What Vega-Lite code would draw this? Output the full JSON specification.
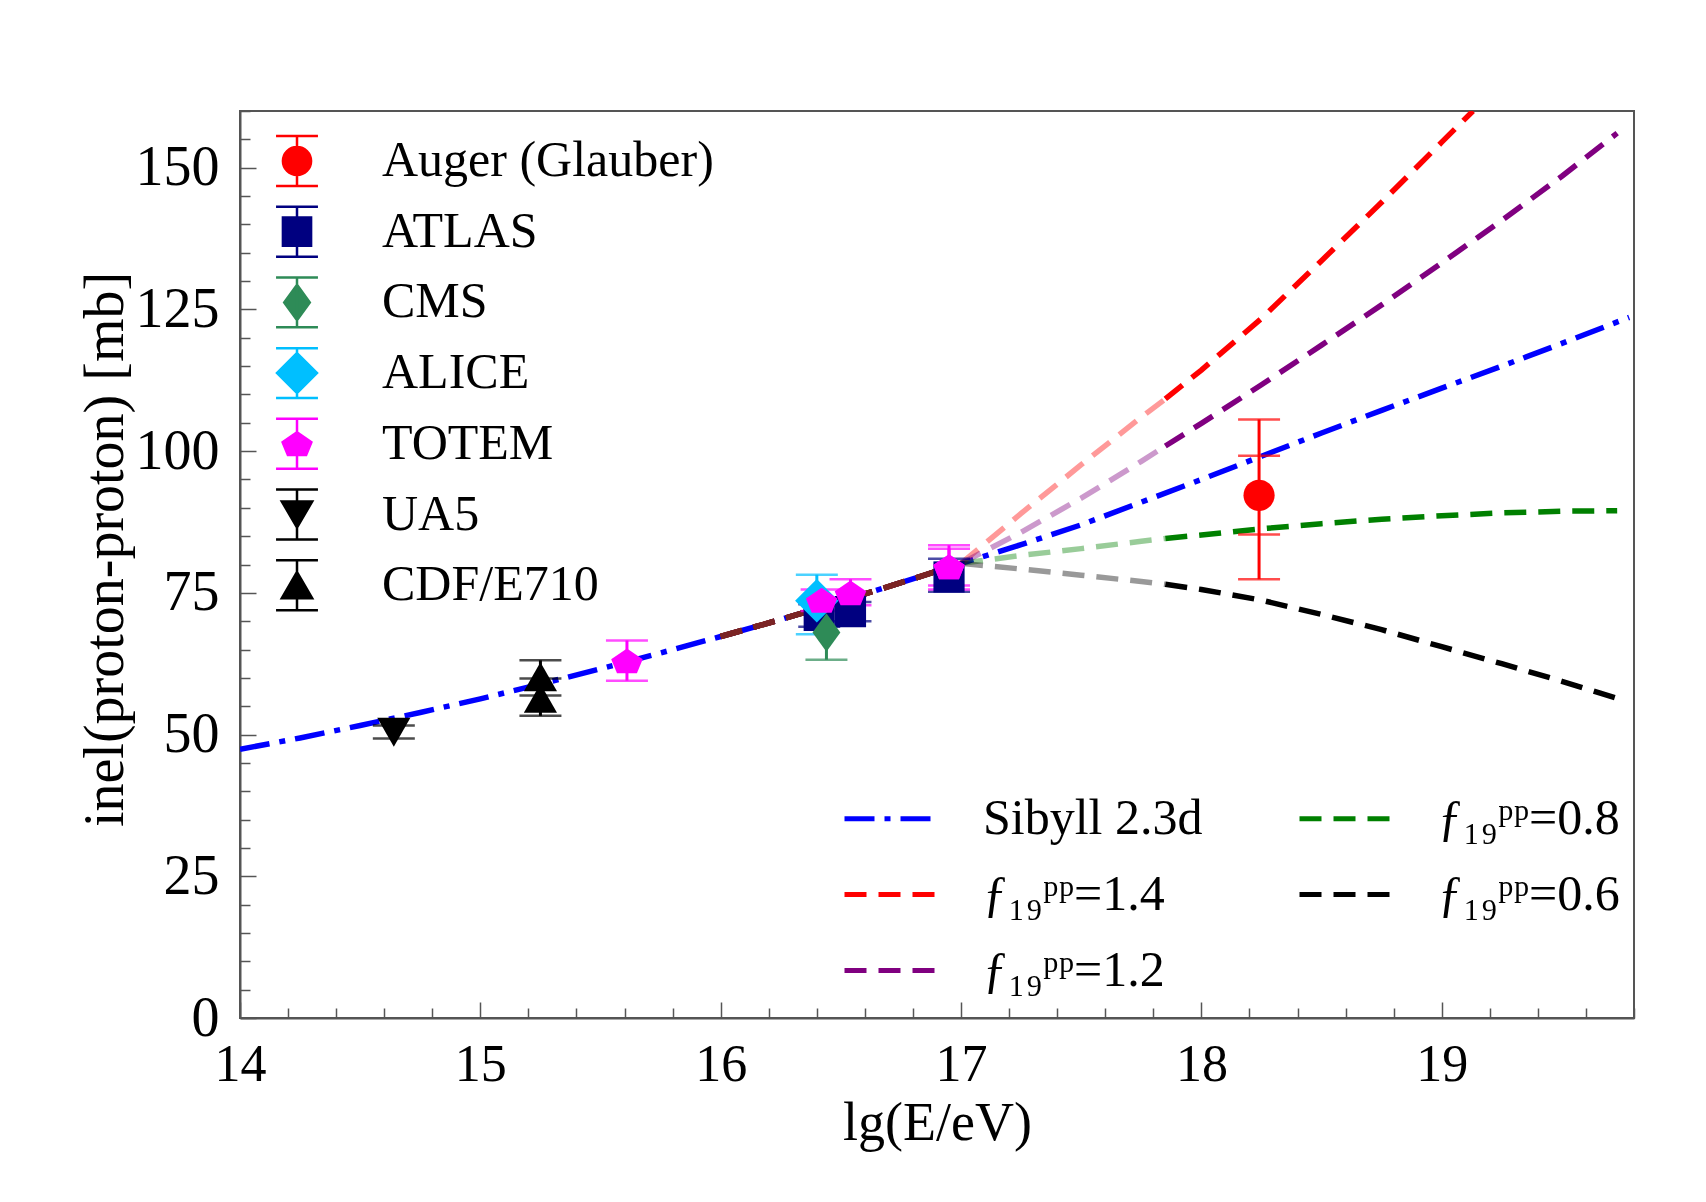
{
  "$schema": "https://vega.github.io/schema/vega-lite/v6.json",
  "width": 1394,
  "height": 907,
  "autosize": {"type": "none"},
  "padding": {"left": 240, "top": 111, "right": 72, "bottom": 184},
  "background": "#ffffff",
  "config": {
    "view": {"stroke": "#555555", "strokeWidth": 2},
    "font": "Liberation Serif",
    "axisX": {
      "tickColor": "#555555", "tickWidth": 1.5,
      "domainColor": "#555555", "domainWidth": 2,
      "labelFont": "Liberation Serif", "labelFontSize": 52, "labelColor": "#000000",
      "labelPadding": 37, "labelOverlap": false, "labelFlush": false,
      "titleFont": "Liberation Serif", "titleFontSize": 54, "titleFontWeight": "normal", "titleColor": "#000000",
      "titlePadding": 0, "grid": false
    },
    "axisY": {
      "tickColor": "#555555", "tickWidth": 1.5,
      "domainColor": "#555555", "domainWidth": 2,
      "labelFont": "Liberation Serif", "labelFontSize": 56, "labelColor": "#000000",
      "labelPadding": 37, "labelOverlap": false, "labelFlush": false,
      "titleFont": "Liberation Serif", "titleFontSize": 56, "titleFontWeight": "normal", "titleColor": "#000000",
      "titleAngle": -90, "titleX": -135, "titleY": 438, "titleAlign": "center", "titleBaseline": "middle",
      "grid": false
    }
  },
  "datasets": {
    "curves": [
      {"m": "Sibyll 2.3d", "x": 14.0, "y": 47.4},
      {"m": "Sibyll 2.3d", "x": 14.25, "y": 49.4},
      {"m": "Sibyll 2.3d", "x": 14.5, "y": 51.6},
      {"m": "Sibyll 2.3d", "x": 14.75, "y": 53.9},
      {"m": "Sibyll 2.3d", "x": 15.0, "y": 56.3},
      {"m": "Sibyll 2.3d", "x": 15.25, "y": 58.9},
      {"m": "Sibyll 2.3d", "x": 15.5, "y": 61.6},
      {"m": "Sibyll 2.3d", "x": 15.75, "y": 64.4},
      {"m": "Sibyll 2.3d", "x": 16.0, "y": 67.3},
      {"m": "Sibyll 2.3d", "x": 16.25, "y": 70.3},
      {"m": "Sibyll 2.3d", "x": 16.5, "y": 73.5},
      {"m": "Sibyll 2.3d", "x": 16.75, "y": 76.8},
      {"m": "Sibyll 2.3d", "x": 17.0, "y": 80.2},
      {"m": "Sibyll 2.3d", "x": 17.25, "y": 83.5},
      {"m": "Sibyll 2.3d", "x": 17.5, "y": 87.0},
      {"m": "Sibyll 2.3d", "x": 17.75, "y": 91.0},
      {"m": "Sibyll 2.3d", "x": 18.0, "y": 95.0},
      {"m": "Sibyll 2.3d", "x": 18.25, "y": 99.1},
      {"m": "Sibyll 2.3d", "x": 18.5, "y": 103.2},
      {"m": "Sibyll 2.3d", "x": 18.75, "y": 107.2},
      {"m": "Sibyll 2.3d", "x": 19.0, "y": 111.1},
      {"m": "Sibyll 2.3d", "x": 19.25, "y": 115.0},
      {"m": "Sibyll 2.3d", "x": 19.5, "y": 119.0},
      {"m": "Sibyll 2.3d", "x": 19.78, "y": 123.6},

      {"m": "ƒ₁₉ᵖᵖ=1.4", "x": 16.0, "y": 67.3},
      {"m": "ƒ₁₉ᵖᵖ=1.4", "x": 16.25, "y": 70.3},
      {"m": "ƒ₁₉ᵖᵖ=1.4", "x": 16.5, "y": 73.5},
      {"m": "ƒ₁₉ᵖᵖ=1.4", "x": 16.75, "y": 76.8},
      {"m": "ƒ₁₉ᵖᵖ=1.4", "x": 17.0, "y": 80.2},
      {"m": "ƒ₁₉ᵖᵖ=1.4", "x": 17.25, "y": 89.0},
      {"m": "ƒ₁₉ᵖᵖ=1.4", "x": 17.5, "y": 97.6},
      {"m": "ƒ₁₉ᵖᵖ=1.4", "x": 17.75, "y": 106.0},
      {"m": "ƒ₁₉ᵖᵖ=1.4", "x": 17.85, "y": 109.2},
      {"m": "ƒ₁₉ᵖᵖ=1.4", "x": 18.0, "y": 114.3},
      {"m": "ƒ₁₉ᵖᵖ=1.4", "x": 18.25, "y": 123.4},
      {"m": "ƒ₁₉ᵖᵖ=1.4", "x": 18.5, "y": 133.6},
      {"m": "ƒ₁₉ᵖᵖ=1.4", "x": 18.75, "y": 143.9},
      {"m": "ƒ₁₉ᵖᵖ=1.4", "x": 19.0, "y": 154.5},
      {"m": "ƒ₁₉ᵖᵖ=1.4", "x": 19.13, "y": 160.0},

      {"m": "ƒ₁₉ᵖᵖ=1.2", "x": 16.0, "y": 67.3},
      {"m": "ƒ₁₉ᵖᵖ=1.2", "x": 16.25, "y": 70.3},
      {"m": "ƒ₁₉ᵖᵖ=1.2", "x": 16.5, "y": 73.5},
      {"m": "ƒ₁₉ᵖᵖ=1.2", "x": 16.75, "y": 76.8},
      {"m": "ƒ₁₉ᵖᵖ=1.2", "x": 17.0, "y": 80.2},
      {"m": "ƒ₁₉ᵖᵖ=1.2", "x": 17.25, "y": 85.7},
      {"m": "ƒ₁₉ᵖᵖ=1.2", "x": 17.5, "y": 91.7},
      {"m": "ƒ₁₉ᵖᵖ=1.2", "x": 17.75, "y": 98.2},
      {"m": "ƒ₁₉ᵖᵖ=1.2", "x": 17.85, "y": 100.9},
      {"m": "ƒ₁₉ᵖᵖ=1.2", "x": 18.0, "y": 104.9},
      {"m": "ƒ₁₉ᵖᵖ=1.2", "x": 18.25, "y": 111.7},
      {"m": "ƒ₁₉ᵖᵖ=1.2", "x": 18.5, "y": 118.7},
      {"m": "ƒ₁₉ᵖᵖ=1.2", "x": 18.75, "y": 125.8},
      {"m": "ƒ₁₉ᵖᵖ=1.2", "x": 19.0, "y": 133.2},
      {"m": "ƒ₁₉ᵖᵖ=1.2", "x": 19.25, "y": 140.7},
      {"m": "ƒ₁₉ᵖᵖ=1.2", "x": 19.5, "y": 148.5},
      {"m": "ƒ₁₉ᵖᵖ=1.2", "x": 19.73, "y": 156.1},

      {"m": "ƒ₁₉ᵖᵖ=0.8", "x": 16.0, "y": 67.3},
      {"m": "ƒ₁₉ᵖᵖ=0.8", "x": 16.25, "y": 70.3},
      {"m": "ƒ₁₉ᵖᵖ=0.8", "x": 16.5, "y": 73.5},
      {"m": "ƒ₁₉ᵖᵖ=0.8", "x": 16.75, "y": 76.8},
      {"m": "ƒ₁₉ᵖᵖ=0.8", "x": 17.0, "y": 80.2},
      {"m": "ƒ₁₉ᵖᵖ=0.8", "x": 17.25, "y": 81.6},
      {"m": "ƒ₁₉ᵖᵖ=0.8", "x": 17.5, "y": 82.8},
      {"m": "ƒ₁₉ᵖᵖ=0.8", "x": 17.75, "y": 84.1},
      {"m": "ƒ₁₉ᵖᵖ=0.8", "x": 17.85, "y": 84.6},
      {"m": "ƒ₁₉ᵖᵖ=0.8", "x": 18.0, "y": 85.2},
      {"m": "ƒ₁₉ᵖᵖ=0.8", "x": 18.25, "y": 86.3},
      {"m": "ƒ₁₉ᵖᵖ=0.8", "x": 18.5, "y": 87.2},
      {"m": "ƒ₁₉ᵖᵖ=0.8", "x": 18.75, "y": 88.0},
      {"m": "ƒ₁₉ᵖᵖ=0.8", "x": 19.0, "y": 88.6},
      {"m": "ƒ₁₉ᵖᵖ=0.8", "x": 19.25, "y": 89.1},
      {"m": "ƒ₁₉ᵖᵖ=0.8", "x": 19.5, "y": 89.4},
      {"m": "ƒ₁₉ᵖᵖ=0.8", "x": 19.73, "y": 89.5},

      {"m": "ƒ₁₉ᵖᵖ=0.6", "x": 16.0, "y": 67.3},
      {"m": "ƒ₁₉ᵖᵖ=0.6", "x": 16.25, "y": 70.3},
      {"m": "ƒ₁₉ᵖᵖ=0.6", "x": 16.5, "y": 73.5},
      {"m": "ƒ₁₉ᵖᵖ=0.6", "x": 16.75, "y": 76.8},
      {"m": "ƒ₁₉ᵖᵖ=0.6", "x": 17.0, "y": 80.2},
      {"m": "ƒ₁₉ᵖᵖ=0.6", "x": 17.25, "y": 79.2},
      {"m": "ƒ₁₉ᵖᵖ=0.6", "x": 17.5, "y": 78.1},
      {"m": "ƒ₁₉ᵖᵖ=0.6", "x": 17.75, "y": 77.0},
      {"m": "ƒ₁₉ᵖᵖ=0.6", "x": 17.85, "y": 76.5},
      {"m": "ƒ₁₉ᵖᵖ=0.6", "x": 18.0, "y": 75.6},
      {"m": "ƒ₁₉ᵖᵖ=0.6", "x": 18.25, "y": 73.7},
      {"m": "ƒ₁₉ᵖᵖ=0.6", "x": 18.5, "y": 71.2},
      {"m": "ƒ₁₉ᵖᵖ=0.6", "x": 18.75, "y": 68.5},
      {"m": "ƒ₁₉ᵖᵖ=0.6", "x": 19.0, "y": 65.5},
      {"m": "ƒ₁₉ᵖᵖ=0.6", "x": 19.25, "y": 62.5},
      {"m": "ƒ₁₉ᵖᵖ=0.6", "x": 19.5, "y": 59.4},
      {"m": "ƒ₁₉ᵖᵖ=0.6", "x": 19.73, "y": 56.4}
    ],
    "pts": [
      {"d": "CDF/E710", "x": 15.25, "y": 60.2, "lo": 56.9, "hi": 63.1},
      {"d": "CDF/E710", "x": 15.25, "y": 56.4, "lo": 53.3, "hi": 59.9},
      {"d": "UA5", "x": 14.64, "y": 50.4, "lo": 49.3, "hi": 51.6},
      {"d": "ATLAS", "x": 16.41, "y": 71.0, "lo": 69.0, "hi": 73.0},
      {"d": "ATLAS", "x": 16.54, "y": 71.7, "lo": 70.0, "hi": 73.4},
      {"d": "ATLAS", "x": 16.95, "y": 77.8, "lo": 75.2, "hi": 81.0},
      {"d": "ALICE", "x": 16.4, "y": 73.6, "lo": 67.7, "hi": 78.2},
      {"d": "CMS", "x": 16.44, "y": 68.0, "lo": 63.2, "hi": 72.8},
      {"d": "TOTEM", "x": 15.61, "y": 63.0, "lo": 59.5, "hi": 66.6},
      {"d": "TOTEM", "x": 16.42, "y": 73.7, "lo": 71.8, "hi": 75.6},
      {"d": "TOTEM", "x": 16.54, "y": 75.0, "lo": 72.8, "hi": 77.4},
      {"d": "TOTEM", "x": 16.95, "y": 79.6, "lo": 75.6, "hi": 83.4},
      {"d": "TOTEM", "x": 16.95, "y": 79.6, "lo": 76.3, "hi": 82.8},
      {"d": "Auger (Glauber)", "x": 18.24, "y": 92.2, "lo": 77.4, "hi": 105.6, "lo2": 85.3, "hi2": 99.2}
    ]
  },
  "layer": [
    {
      "data": {"name": "curves"},
      "transform": [{"filter": "datum.m == 'Sibyll 2.3d' || datum.x >= 17.85"}],
      "mark": {"type": "line", "strokeWidth": 5.5, "clip": true},
      "encoding": {
        "x": {
          "field": "x", "type": "quantitative",
          "scale": {"domain": [14, 19.8], "nice": false, "zero": false},
          "axis": {
            "title": "lg(E/eV)",
            "values": [14,14.2,14.4,14.6,14.8,15,15.2,15.4,15.6,15.8,16,16.2,16.4,16.6,16.8,17,17.2,17.4,17.6,17.8,18,18.2,18.4,18.6,18.8,19,19.2,19.4,19.6,19.8],
            "labelExpr": "datum.value % 1 === 0 ? format(datum.value, 'd') : ''",
            "tickSize": {"condition": {"test": "datum.value % 1 === 0", "value": -16}, "value": -10}
          }
        },
        "y": {
          "field": "y", "type": "quantitative",
          "scale": {"domain": [0, 160], "nice": false, "zero": false},
          "axis": {
            "title": "inel(proton-proton) [mb]",
            "values": [0,5,10,15,20,25,30,35,40,45,50,55,60,65,70,75,80,85,90,95,100,105,110,115,120,125,130,135,140,145,150,155,160],
            "labelExpr": "datum.value % 25 === 0 ? format(datum.value, 'd') : ''",
            "tickSize": {"condition": {"test": "datum.value % 25 === 0", "value": -16}, "value": -10}
          }
        },
        "color": {
          "field": "m", "type": "nominal",
          "scale": {
            "domain": ["Sibyll 2.3d", "ƒ₁₉ᵖᵖ=1.4", "ƒ₁₉ᵖᵖ=1.2", "ƒ₁₉ᵖᵖ=0.8", "ƒ₁₉ᵖᵖ=0.6"],
            "range": ["#0000FF", "#FF0000", "#800080", "#008000", "#000000"]
          },
          "legend": {
            "orient": "none", "legendX": 602, "legendY": 657, "title": null,
            "columns": 2, "columnPadding": 86, "rowPadding": -16, "padding": 0,
            "labelFont": "Liberation Serif", "labelFontSize": 50, "labelColor": "#000000", "labelLimit": 0,
            "symbolType": "stroke", "symbolSize": 9216, "symbolStrokeWidth": 5, "symbolOpacity": 1, "labelOffset": 40
          }
        },
        "strokeDash": {
          "field": "m", "type": "nominal",
          "scale": {
            "domain": ["Sibyll 2.3d", "ƒ₁₉ᵖᵖ=1.4", "ƒ₁₉ᵖᵖ=1.2", "ƒ₁₉ᵖᵖ=0.8", "ƒ₁₉ᵖᵖ=0.6"],
            "range": [[30, 10, 6, 10], [22, 12], [22, 12], [22, 12], [22, 12]]
          },
          "legend": {
            "orient": "none", "legendX": 602, "legendY": 657, "title": null,
            "columns": 2, "columnPadding": 86, "rowPadding": -16, "padding": 0,
            "labelFont": "Liberation Serif", "labelFontSize": 50, "labelColor": "#000000", "labelLimit": 0,
            "symbolType": "stroke", "symbolSize": 9216, "symbolStrokeWidth": 5, "symbolOpacity": 1, "labelOffset": 40
          }
        }
      }
    },
    {
      "data": {"name": "curves"},
      "transform": [{"filter": "datum.m != 'Sibyll 2.3d' && datum.x >= 17 && datum.x <= 17.85"}],
      "mark": {"type": "line", "strokeWidth": 5.5, "opacity": 0.4, "clip": true},
      "encoding": {
        "x": {
          "field": "x", "type": "quantitative",
          "scale": {"domain": [14, 19.8], "nice": false, "zero": false},
          "axis": {
            "title": "lg(E/eV)",
            "values": [14,14.2,14.4,14.6,14.8,15,15.2,15.4,15.6,15.8,16,16.2,16.4,16.6,16.8,17,17.2,17.4,17.6,17.8,18,18.2,18.4,18.6,18.8,19,19.2,19.4,19.6,19.8],
            "labelExpr": "datum.value % 1 === 0 ? format(datum.value, 'd') : ''",
            "tickSize": {"condition": {"test": "datum.value % 1 === 0", "value": -16}, "value": -10}
          }
        },
        "y": {
          "field": "y", "type": "quantitative",
          "scale": {"domain": [0, 160], "nice": false, "zero": false},
          "axis": {
            "title": "inel(proton-proton) [mb]",
            "values": [0,5,10,15,20,25,30,35,40,45,50,55,60,65,70,75,80,85,90,95,100,105,110,115,120,125,130,135,140,145,150,155,160],
            "labelExpr": "datum.value % 25 === 0 ? format(datum.value, 'd') : ''",
            "tickSize": {"condition": {"test": "datum.value % 25 === 0", "value": -16}, "value": -10}
          }
        },
        "color": {
          "field": "m", "type": "nominal",
          "scale": {
            "domain": ["Sibyll 2.3d", "ƒ₁₉ᵖᵖ=1.4", "ƒ₁₉ᵖᵖ=1.2", "ƒ₁₉ᵖᵖ=0.8", "ƒ₁₉ᵖᵖ=0.6"],
            "range": ["#0000FF", "#FF0000", "#800080", "#008000", "#000000"]
          },
          "legend": null
        },
        "strokeDash": {
          "field": "m", "type": "nominal",
          "scale": {
            "domain": ["Sibyll 2.3d", "ƒ₁₉ᵖᵖ=1.4", "ƒ₁₉ᵖᵖ=1.2", "ƒ₁₉ᵖᵖ=0.8", "ƒ₁₉ᵖᵖ=0.6"],
            "range": [[30, 10, 6, 10], [22, 12], [22, 12], [22, 12], [22, 12]]
          },
          "legend": null
        }
      }
    },
    {
      "data": {"name": "curves"},
      "transform": [{"filter": "datum.m != 'Sibyll 2.3d' && datum.x <= 17"}],
      "mark": {"type": "line", "strokeWidth": 5.5, "color": "#7B2424", "strokeDash": [22, 12], "clip": true},
      "encoding": {
        "x": {
          "field": "x", "type": "quantitative",
          "scale": {"domain": [14, 19.8], "nice": false, "zero": false},
          "axis": {
            "title": "lg(E/eV)",
            "values": [14,14.2,14.4,14.6,14.8,15,15.2,15.4,15.6,15.8,16,16.2,16.4,16.6,16.8,17,17.2,17.4,17.6,17.8,18,18.2,18.4,18.6,18.8,19,19.2,19.4,19.6,19.8],
            "labelExpr": "datum.value % 1 === 0 ? format(datum.value, 'd') : ''",
            "tickSize": {"condition": {"test": "datum.value % 1 === 0", "value": -16}, "value": -10}
          }
        },
        "y": {
          "field": "y", "type": "quantitative",
          "scale": {"domain": [0, 160], "nice": false, "zero": false},
          "axis": {
            "title": "inel(proton-proton) [mb]",
            "values": [0,5,10,15,20,25,30,35,40,45,50,55,60,65,70,75,80,85,90,95,100,105,110,115,120,125,130,135,140,145,150,155,160],
            "labelExpr": "datum.value % 25 === 0 ? format(datum.value, 'd') : ''",
            "tickSize": {"condition": {"test": "datum.value % 25 === 0", "value": -16}, "value": -10}
          }
        },
        "detail": {"field": "m"}
      }
    },
    {
      "data": {"name": "pts"},
      "encoding": {
        "x": {
          "field": "x", "type": "quantitative",
          "scale": {"domain": [14, 19.8], "nice": false, "zero": false},
          "axis": {
            "title": "lg(E/eV)",
            "values": [14,14.2,14.4,14.6,14.8,15,15.2,15.4,15.6,15.8,16,16.2,16.4,16.6,16.8,17,17.2,17.4,17.6,17.8,18,18.2,18.4,18.6,18.8,19,19.2,19.4,19.6,19.8],
            "labelExpr": "datum.value % 1 === 0 ? format(datum.value, 'd') : ''",
            "tickSize": {"condition": {"test": "datum.value % 1 === 0", "value": -16}, "value": -10}
          }
        },
        "color": {
          "field": "d", "type": "nominal",
          "scale": {
            "domain": ["Auger (Glauber)", "ATLAS", "CMS", "ALICE", "TOTEM", "UA5", "CDF/E710"],
            "range": ["#FF0000", "#000080", "#2E8B57", "#00BFFF", "#FF00FF", "#000000", "#000000"]
          },
          "legend": null
        }
      },
      "layer": [
        {
          "mark": {"type": "rule", "strokeWidth": 3},
          "encoding": {
            "y": {
              "field": "lo", "type": "quantitative",
              "scale": {"domain": [0, 160], "nice": false, "zero": false},
              "axis": {
                "title": "inel(proton-proton) [mb]",
                "values": [0,5,10,15,20,25,30,35,40,45,50,55,60,65,70,75,80,85,90,95,100,105,110,115,120,125,130,135,140,145,150,155,160],
                "labelExpr": "datum.value % 25 === 0 ? format(datum.value, 'd') : ''",
                "tickSize": {"condition": {"test": "datum.value % 25 === 0", "value": -16}, "value": -10}
              }
            },
            "y2": {"field": "hi"}
          }
        },
        {
          "mark": {"type": "tick", "orient": "horizontal", "size": 42, "thickness": 2.5},
          "encoding": {
            "y": {
              "field": "lo", "type": "quantitative",
              "scale": {"domain": [0, 160], "nice": false, "zero": false},
              "axis": {
                "title": "inel(proton-proton) [mb]",
                "values": [0,5,10,15,20,25,30,35,40,45,50,55,60,65,70,75,80,85,90,95,100,105,110,115,120,125,130,135,140,145,150,155,160],
                "labelExpr": "datum.value % 25 === 0 ? format(datum.value, 'd') : ''",
                "tickSize": {"condition": {"test": "datum.value % 25 === 0", "value": -16}, "value": -10}
              }
            }
          }
        },
        {
          "mark": {"type": "tick", "orient": "horizontal", "size": 42, "thickness": 2.5},
          "encoding": {
            "y": {
              "field": "hi", "type": "quantitative",
              "scale": {"domain": [0, 160], "nice": false, "zero": false},
              "axis": {
                "title": "inel(proton-proton) [mb]",
                "values": [0,5,10,15,20,25,30,35,40,45,50,55,60,65,70,75,80,85,90,95,100,105,110,115,120,125,130,135,140,145,150,155,160],
                "labelExpr": "datum.value % 25 === 0 ? format(datum.value, 'd') : ''",
                "tickSize": {"condition": {"test": "datum.value % 25 === 0", "value": -16}, "value": -10}
              }
            }
          }
        },
        {
          "transform": [{"filter": "isValid(datum.lo2)"}],
          "mark": {"type": "tick", "orient": "horizontal", "size": 42, "thickness": 2.5},
          "encoding": {
            "y": {
              "field": "lo2", "type": "quantitative",
              "scale": {"domain": [0, 160], "nice": false, "zero": false},
              "axis": {
                "title": "inel(proton-proton) [mb]",
                "values": [0,5,10,15,20,25,30,35,40,45,50,55,60,65,70,75,80,85,90,95,100,105,110,115,120,125,130,135,140,145,150,155,160],
                "labelExpr": "datum.value % 25 === 0 ? format(datum.value, 'd') : ''",
                "tickSize": {"condition": {"test": "datum.value % 25 === 0", "value": -16}, "value": -10}
              }
            }
          }
        },
        {
          "transform": [{"filter": "isValid(datum.hi2)"}],
          "mark": {"type": "tick", "orient": "horizontal", "size": 42, "thickness": 2.5},
          "encoding": {
            "y": {
              "field": "hi2", "type": "quantitative",
              "scale": {"domain": [0, 160], "nice": false, "zero": false},
              "axis": {
                "title": "inel(proton-proton) [mb]",
                "values": [0,5,10,15,20,25,30,35,40,45,50,55,60,65,70,75,80,85,90,95,100,105,110,115,120,125,130,135,140,145,150,155,160],
                "labelExpr": "datum.value % 25 === 0 ? format(datum.value, 'd') : ''",
                "tickSize": {"condition": {"test": "datum.value % 25 === 0", "value": -16}, "value": -10}
              }
            }
          }
        }
      ]
    },
    {
      "data": {"name": "pts"},
      "mark": {"type": "point", "filled": true, "size": 1100, "opacity": 1, "strokeWidth": 0},
      "encoding": {
        "x": {
          "field": "x", "type": "quantitative",
          "scale": {"domain": [14, 19.8], "nice": false, "zero": false},
          "axis": {
            "title": "lg(E/eV)",
            "values": [14,14.2,14.4,14.6,14.8,15,15.2,15.4,15.6,15.8,16,16.2,16.4,16.6,16.8,17,17.2,17.4,17.6,17.8,18,18.2,18.4,18.6,18.8,19,19.2,19.4,19.6,19.8],
            "labelExpr": "datum.value % 1 === 0 ? format(datum.value, 'd') : ''",
            "tickSize": {"condition": {"test": "datum.value % 1 === 0", "value": -16}, "value": -10}
          }
        },
        "y": {
          "field": "y", "type": "quantitative",
          "scale": {"domain": [0, 160], "nice": false, "zero": false},
          "axis": {
            "title": "inel(proton-proton) [mb]",
            "values": [0,5,10,15,20,25,30,35,40,45,50,55,60,65,70,75,80,85,90,95,100,105,110,115,120,125,130,135,140,145,150,155,160],
            "labelExpr": "datum.value % 25 === 0 ? format(datum.value, 'd') : ''",
            "tickSize": {"condition": {"test": "datum.value % 25 === 0", "value": -16}, "value": -10}
          }
        },
        "color": {
          "field": "d", "type": "nominal",
          "scale": {
            "domain": ["Auger (Glauber)", "ATLAS", "CMS", "ALICE", "TOTEM", "UA5", "CDF/E710"],
            "range": ["#FF0000", "#000080", "#2E8B57", "#00BFFF", "#FF00FF", "#000000", "#000000"]
          },
          "legend": null
        },
        "shape": {
          "field": "d", "type": "nominal",
          "scale": {
            "domain": ["Auger (Glauber)", "ATLAS", "CMS", "ALICE", "TOTEM", "UA5", "CDF/E710"],
            "range": [
              "M0.94,0A0.94,0.94 0 1,1 -0.94,0A0.94,0.94 0 1,1 0.94,0Z",
              "M-0.94,-0.94H0.94V0.94H-0.94Z",
              "M0,-1.16L0.84,0L0,1.16L-0.84,0Z",
              "M0,-1.31L1.31,0L0,1.31L-1.31,0Z",
              "M0,-0.75L0.95,-0.1L0.6,0.75L-0.6,0.75L-0.95,-0.1Z",
              "M-1,-0.87L1,-0.87L0,0.87Z",
              "M0,-0.87L1,0.87L-1,0.87Z"
            ]
          },
          "legend": null
        }
      }
    },
    {
      "data": {"name": "pts"},
      "transform": [{"filter": "false"}],
      "mark": {"type": "point", "filled": true, "size": 1024, "opacity": 1, "strokeWidth": 2.5},
      "encoding": {
        "x": {
          "field": "x", "type": "quantitative",
          "scale": {"domain": [14, 19.8], "nice": false, "zero": false},
          "axis": {
            "title": "lg(E/eV)",
            "values": [14,14.2,14.4,14.6,14.8,15,15.2,15.4,15.6,15.8,16,16.2,16.4,16.6,16.8,17,17.2,17.4,17.6,17.8,18,18.2,18.4,18.6,18.8,19,19.2,19.4,19.6,19.8],
            "labelExpr": "datum.value % 1 === 0 ? format(datum.value, 'd') : ''",
            "tickSize": {"condition": {"test": "datum.value % 1 === 0", "value": -16}, "value": -10}
          }
        },
        "y": {
          "field": "y", "type": "quantitative",
          "scale": {"domain": [0, 160], "nice": false, "zero": false},
          "axis": {
            "title": "inel(proton-proton) [mb]",
            "values": [0,5,10,15,20,25,30,35,40,45,50,55,60,65,70,75,80,85,90,95,100,105,110,115,120,125,130,135,140,145,150,155,160],
            "labelExpr": "datum.value % 25 === 0 ? format(datum.value, 'd') : ''",
            "tickSize": {"condition": {"test": "datum.value % 25 === 0", "value": -16}, "value": -10}
          }
        },
        "color": {
          "field": "d", "type": "nominal",
          "scale": {
            "domain": ["Auger (Glauber)", "ATLAS", "CMS", "ALICE", "TOTEM", "UA5", "CDF/E710"],
            "range": ["#FF0000", "#000080", "#2E8B57", "#00BFFF", "#FF00FF", "#000000", "#000000"]
          },
          "legend": {
            "orient": "none", "legendX": 32, "legendY": 25, "title": null, "padding": 0,
            "labelFont": "Liberation Serif", "labelFontSize": 50, "labelColor": "#000000", "labelLimit": 0,
            "symbolSize": 1024, "symbolStrokeWidth": 2.5, "symbolOpacity": 1, "labelOffset": 60, "rowPadding": 10.7
          }
        },
        "stroke": {
          "field": "d", "type": "nominal",
          "scale": {
            "domain": ["Auger (Glauber)", "ATLAS", "CMS", "ALICE", "TOTEM", "UA5", "CDF/E710"],
            "range": ["#FF0000", "#000080", "#2E8B57", "#00BFFF", "#FF00FF", "#000000", "#000000"]
          },
          "legend": {
            "orient": "none", "legendX": 32, "legendY": 25, "title": null, "padding": 0,
            "labelFont": "Liberation Serif", "labelFontSize": 50, "labelColor": "#000000", "labelLimit": 0,
            "symbolSize": 1024, "symbolStrokeWidth": 2.5, "symbolOpacity": 1, "labelOffset": 60, "rowPadding": 10.7
          }
        },
        "shape": {
          "field": "d", "type": "nominal",
          "scale": {
            "domain": ["Auger (Glauber)", "ATLAS", "CMS", "ALICE", "TOTEM", "UA5", "CDF/E710"],
            "range": [
              "M-1.31,-1.56H1.31M0,-1.56V1.56M-1.31,1.56H1.31M0.88,0A0.88,0.88 0 1,1 -0.88,0A0.88,0.88 0 1,1 0.88,0Z",
              "M-1.31,-1.56H1.31M0,-1.56V1.56M-1.31,1.56H1.31M-0.88,-0.88H0.88V0.88H-0.88Z",
              "M-1.31,-1.56H1.31M0,-1.56V1.56M-1.31,1.56H1.31M0,-1.1L0.8,0L0,1.1L-0.8,0Z",
              "M-1.31,-1.56H1.31M0,-1.56V1.56M-1.31,1.56H1.31M0,-1.25L1.25,0L0,1.25L-1.25,0Z",
              "M-1.31,-1.56H1.31M0,-1.56V1.56M-1.31,1.56H1.31M0,-0.72L0.9,-0.1L0.57,0.7L-0.57,0.7L-0.9,-0.1Z",
              "M-1.31,-1.56H1.31M0,-1.56V1.56M-1.31,1.56H1.31M-0.95,-0.82L0.95,-0.82L0,0.82Z",
              "M-1.31,-1.56H1.31M0,-1.56V1.56M-1.31,1.56H1.31M0,-0.82L0.95,0.82L-0.95,0.82Z"
            ]
          },
          "legend": {
            "orient": "none", "legendX": 32, "legendY": 25, "title": null, "padding": 0,
            "labelFont": "Liberation Serif", "labelFontSize": 50, "labelColor": "#000000", "labelLimit": 0,
            "symbolSize": 1024, "symbolStrokeWidth": 2.5, "symbolOpacity": 1, "labelOffset": 60, "rowPadding": 10.7
          }
        }
      }
    }
  ],
  "resolve": {
    "scale": {"color": "independent", "strokeDash": "independent", "shape": "independent", "stroke": "independent"}
  }
}
